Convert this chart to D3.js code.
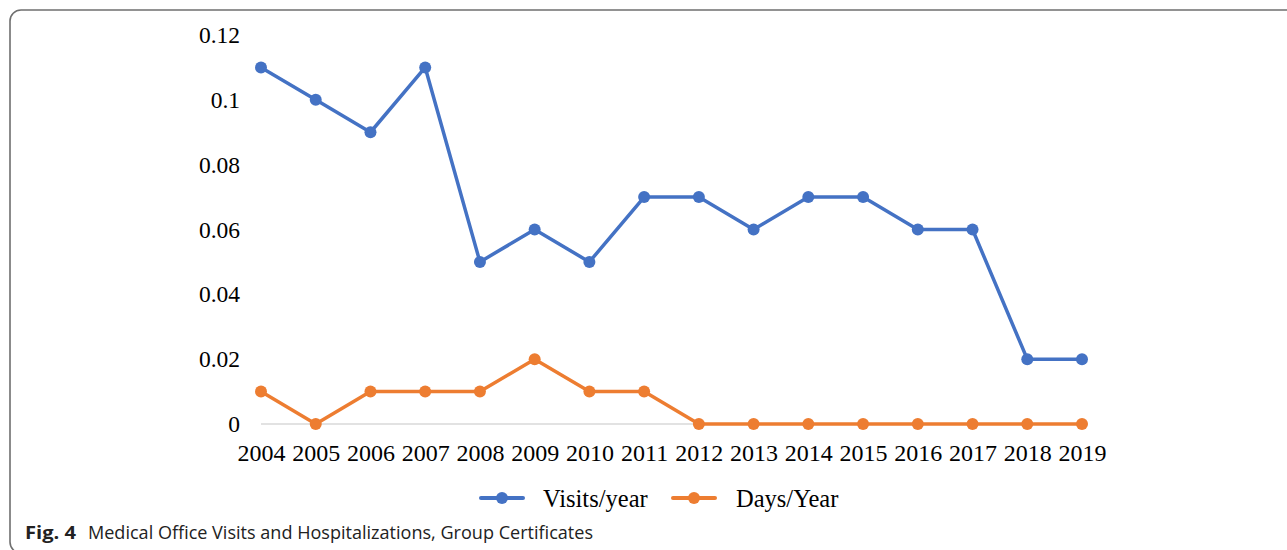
<!DOCTYPE html>
<html>
<head>
<meta charset="utf-8">
<script src="https://cdn.jsdelivr.net/npm/d3@7"></script>
<style>
  html, body { margin: 0; padding: 0; background: #fff; }
  svg { display: block; }
</style>
</head>
<body>
<svg id="chart" width="1287" height="550"></svg>
<script>
const years = ["2004","2005","2006","2007","2008","2009","2010","2011","2012","2013","2014","2015","2016","2017","2018","2019"];
const visitsPerYear = [0.11,0.10,0.09,0.11,0.05,0.06,0.05,0.07,0.07,0.06,0.07,0.07,0.06,0.06,0.02,0.02];
const daysPerYear = [0.01,0,0.01,0.01,0.01,0.02,0.01,0.01,0,0,0,0,0,0,0,0];
const yTicks = [0,0.02,0.04,0.06,0.08,0.1,0.12];
const yTickLabels = ["0","0.02","0.04","0.06","0.08","0.1","0.12"];
const seriesNames = ["Visits/year","Days/Year"];
const seriesColors = ["#4472C4","#ED7D31"];

const svg = d3.select("#chart");

// frame
svg.append("rect").attr("x",10).attr("y",10).attr("width",1300).attr("height",543)
  .attr("rx",11).attr("fill","none").attr("stroke","#6f6f6f").attr("stroke-width",1.6);

const x = d3.scalePoint().domain(years).range([261,1082]);
const y = d3.scaleLinear().domain([0,0.12]).range([424,35]);

const serif = "'Liberation Serif','Times New Roman',serif";

// baseline
svg.append("line").attr("x1",x(years[0])).attr("x2",x(years[years.length-1]))
  .attr("y1",y(0)).attr("y2",y(0)).attr("stroke","#d9d9d9").attr("stroke-width",1.5);

// y axis labels
const yAxis = d3.axisLeft(y).tickValues(yTicks).tickSize(0).tickPadding(0)
  .tickFormat((d,i)=>yTickLabels[i]);
const gy = svg.append("g").attr("transform","translate(240,0)").call(yAxis);
gy.select(".domain").remove();
gy.selectAll("text").attr("font-family",serif).attr("font-size",23.5).attr("fill","#000").attr("dy","0.32em");

// x axis labels
const xAxis = d3.axisBottom(x).tickSize(0).tickPadding(0);
const gx = svg.append("g").attr("transform","translate(0,444)").call(xAxis);
gx.select(".domain").remove();
gx.selectAll("text").attr("font-family",serif).attr("font-size",24).attr("fill","#000").attr("dy","0.71em");

// series
const allSeries = [visitsPerYear, daysPerYear];
const line = d3.line().x((d,i)=>x(years[i])).y(d=>y(d));
allSeries.forEach((vals,si)=>{
  svg.append("path").datum(vals).attr("d",line).attr("fill","none")
    .attr("stroke",seriesColors[si]).attr("stroke-width",3.5).attr("stroke-linejoin","round");
  svg.append("g").selectAll("circle").data(vals).join("circle")
    .attr("cx",(d,i)=>x(years[i])).attr("cy",d=>y(d)).attr("r",6)
    .attr("fill",seriesColors[si]);
});

// legend
const legendItems = [{x:481, tx:543},{x:673, tx:736}];
legendItems.forEach((it,i)=>{
  const g = svg.append("g");
  g.append("line").attr("x1",it.x).attr("x2",it.x+42).attr("y1",498).attr("y2",498)
    .attr("stroke",seriesColors[i]).attr("stroke-width",4).attr("stroke-linecap","round");
  g.append("circle").attr("cx",it.x+21).attr("cy",498).attr("r",6).attr("fill",seriesColors[i]);
  g.append("text").attr("x",it.tx).attr("y",498).attr("dy","0.35em")
    .attr("font-family",serif).attr("font-size",24.5).attr("fill","#000").text(seriesNames[i]);
});

// caption
const cap = svg.append("g");
cap.append("text").attr("x",25).attr("y",539).attr("font-family","'Open Sans','Noto Sans',sans-serif")
  .attr("font-weight","bold").attr("font-size",18).attr("fill","#222")
  .attr("textLength",51).attr("lengthAdjust","spacingAndGlyphs").text("Fig. 4");
cap.append("text").attr("x",88).attr("y",539).attr("font-family","'Open Sans','Noto Sans',sans-serif")
  .attr("font-size",18).attr("fill","#222")
  .attr("textLength",505).attr("lengthAdjust","spacingAndGlyphs")
  .text("Medical Office Visits and Hospitalizations, Group Certificates");
</script>
</body>
</html>
